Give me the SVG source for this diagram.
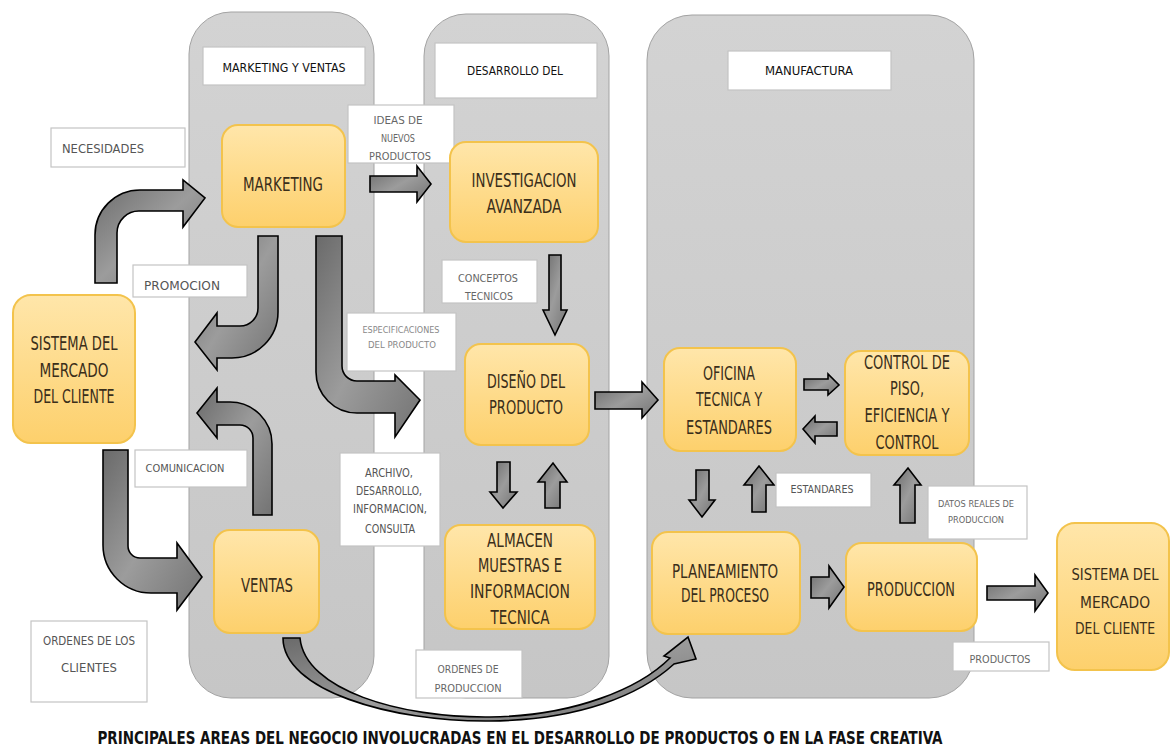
<svg xmlns="http://www.w3.org/2000/svg" width="1172" height="751" viewBox="0 0 1172 751">
<defs>
<linearGradient id="pg" x1="0" y1="0" x2="0" y2="1">
<stop offset="0" stop-color="#d3d3d3"/><stop offset="1" stop-color="#c6c6c6"/>
</linearGradient>
<linearGradient id="ng" x1="0" y1="0" x2="0" y2="1">
<stop offset="0" stop-color="#ffe6aa"/><stop offset="1" stop-color="#fdd06c"/>
</linearGradient>
<linearGradient id="ag" x1="0" y1="0" x2="1" y2="1">
<stop offset="0" stop-color="#6a6a6a"/><stop offset="0.5" stop-color="#9c9c9c"/><stop offset="1" stop-color="#737373"/>
</linearGradient>
<style>
.panel{fill:url(#pg);stroke:#a3a3a3;stroke-width:1}
.lbl{fill:#fff;stroke:#c4c4c4;stroke-width:1.2}
.node{fill:url(#ng);stroke:#f3c34c;stroke-width:2}
.arr{fill:url(#ag);stroke:#000;stroke-width:1.6;stroke-linejoin:miter}
text{font-family:"Liberation Sans Narrow","DejaVu Sans Condensed","Liberation Sans",sans-serif;text-anchor:middle}
.nt{font-size:19px;fill:#3a2e1a}
.nr{font-size:16px;fill:#3a2e1a}
.ht{font-size:13px;fill:#111}
.st{font-size:12px;fill:#555}
.sm{font-size:13px;fill:#555}
.s11{font-size:11px;fill:#555}
.xs{font-size:10px;fill:#666}
.x9{font-size:9px;fill:#666}
.x9l{font-size:9px;fill:#888}
.cap{font-size:18px;font-weight:bold;fill:#111}
</style>
</defs>
<rect width="1172" height="751" fill="#fff"/>

<g id="panels">
<rect class="panel" x="189" y="12" width="185" height="686" rx="42"/>
<rect class="panel" x="424" y="14" width="185" height="684" rx="42"/>
<rect class="panel" x="647" y="15" width="327" height="683" rx="45"/>
</g>

<g id="headers">
<g id="h-mkt"><rect class="lbl" x="203" y="47" width="162" height="38"/><text class="ht" x="284" y="72" textLength="123" lengthAdjust="spacingAndGlyphs">MARKETING Y VENTAS</text></g>
<g id="h-des"><rect class="lbl" x="435" y="43" width="162" height="55"/><text class="ht" x="515" y="75" textLength="96" lengthAdjust="spacingAndGlyphs">DESARROLLO DEL</text></g>
<g id="h-man"><rect class="lbl" x="728" y="51" width="163" height="39"/><text class="ht" x="809" y="75" textLength="88" lengthAdjust="spacingAndGlyphs">MANUFACTURA</text></g>
</g>

<g id="connectors">
<path class="arr" d="M95 283 L95 235 A45 45 0 0 1 140 190 L183 190 L183 180 L205 198 L183 227 L183 211 L140 211 A22 22 0 0 0 117 233 L117 283 Z"/>
<path class="arr" d="M258 236 L278 236 L278 312 A46 46 0 0 1 232 358 L217 358 L217 370 L195 342 L217 313 L217 326 L240 326 A18 18 0 0 0 258 308 Z"/>
<path class="arr" d="M253 515 L272 515 L272 444 A42 42 0 0 0 230 402 L217 402 L217 388 L197 413 L217 438 L217 425 L240 425 A13 13 0 0 1 253 438 Z"/>
<path class="arr" d="M103 450 L103 545 A48 48 0 0 0 151 593 L177 593 L177 610 L202 577 L177 543 L177 558 L140 558 A12 12 0 0 1 128 546 L128 450 Z"/>
<path class="arr" d="M316 236 L342 236 L342 366 A15 15 0 0 0 357 381 L395 381 L395 375 L420 400 L395 437 L395 413 L357 413 A41 41 0 0 1 316 372 Z"/>
<path class="arr" d="M370 176 L417 176 L417 166 L431 184 L417 202 L417 192 L370 192 Z"/>
<path class="arr" d="M549 255 L561 255 L561 310 L567 310 L555 335 L543 310 L549 310 Z"/>
<path class="arr" d="M595 392 L642 392 L642 382 L658 400 L642 418 L642 409 L595 409 Z"/>
<path class="arr" d="M497 462 L510 462 L510 492 L517 492 L503 508 L490 492 L497 492 Z"/>
<path class="arr" d="M545 508 L560 508 L560 482 L567 482 L553 463 L538 482 L545 482 Z"/>
<path class="arr" d="M804 379 L828 379 L828 374 L839 385 L828 395 L828 390 L804 390 Z"/>
<path class="arr" d="M837 422 L815 422 L815 416 L803 429 L815 443 L815 436 L837 436 Z"/>
<path class="arr" d="M696 470 L709 470 L709 500 L715 500 L702 517 L689 500 L696 500 Z"/>
<path class="arr" d="M752 512 L766 512 L766 485 L774 485 L759 466 L744 485 L752 485 Z"/>
<path class="arr" d="M900 523 L915 523 L915 485 L921 485 L908 468 L894 485 L900 485 Z"/>
<path class="arr" d="M811 577 L829 577 L829 566 L844 587 L829 608 L829 598 L811 598 Z"/>
<path class="arr" d="M987 586 L1035 586 L1035 575 L1048 593 L1035 611 L1035 600 L987 600 Z"/>
<path class="arr" d="M283 638 C283 690 390 722 490 721 C580 720 640 695 674 664 L696 659 L688 637 L664 656 L670 658 C640 688 575 716 490 717 C400 718 305 690 300 638 Z"/>
</g>

<g id="labels">
<g id="l-nec"><rect class="lbl" x="51" y="128" width="134" height="39"/><text class="sm" x="103" y="153" textLength="82" lengthAdjust="spacingAndGlyphs">NECESIDADES</text></g>
<g id="l-pro"><rect class="lbl" x="133" y="265" width="114" height="32"/><text class="sm" x="182" y="290" textLength="76" lengthAdjust="spacingAndGlyphs">PROMOCION</text></g>
<g id="l-ideas"><rect class="lbl" x="348" y="105" width="106" height="58"/>
<text class="xs" x="398" y="124" textLength="49" lengthAdjust="spacingAndGlyphs">IDEAS DE</text>
<text class="xs" x="398" y="142" textLength="34" lengthAdjust="spacingAndGlyphs">NUEVOS</text>
<text class="xs" x="400" y="160" textLength="62" lengthAdjust="spacingAndGlyphs">PRODUCTOS</text></g>
<g id="l-conc"><rect class="lbl" x="442" y="260" width="95" height="43"/>
<text class="xs" x="488" y="282" textLength="60" lengthAdjust="spacingAndGlyphs">CONCEPTOS</text>
<text class="xs" x="489" y="300" textLength="48" lengthAdjust="spacingAndGlyphs">TECNICOS</text></g>
<g id="l-esp"><rect class="lbl" x="347" y="313" width="109" height="58"/>
<text class="x9l" x="401" y="333" textLength="77" lengthAdjust="spacingAndGlyphs">ESPECIFICACIONES</text>
<text class="x9l" x="402" y="348" textLength="68" lengthAdjust="spacingAndGlyphs">DEL PRODUCTO</text></g>
<g id="l-arch"><rect class="lbl" x="340" y="453" width="100" height="93"/>
<text class="st" x="389" y="477" textLength="48" lengthAdjust="spacingAndGlyphs">ARCHIVO,</text>
<text class="st" x="389" y="495" textLength="66" lengthAdjust="spacingAndGlyphs">DESARROLLO,</text>
<text class="st" x="390" y="513" textLength="74" lengthAdjust="spacingAndGlyphs">INFORMACION,</text>
<text class="st" x="390" y="533" textLength="50" lengthAdjust="spacingAndGlyphs">CONSULTA</text></g>
<g id="l-com"><rect class="lbl" x="135" y="450" width="112" height="37"/><text class="s11" x="185" y="472" textLength="79" lengthAdjust="spacingAndGlyphs">COMUNICACION</text></g>
<g id="l-ordc"><rect class="lbl" x="31" y="621" width="116" height="81"/>
<text class="st" x="89" y="645" textLength="92" lengthAdjust="spacingAndGlyphs">ORDENES DE LOS</text>
<text class="st" x="89" y="672" textLength="56" lengthAdjust="spacingAndGlyphs">CLIENTES</text></g>
<g id="l-ordp"><rect class="lbl" x="416" y="650" width="106" height="48"/>
<text class="xs" x="468" y="673" textLength="61" lengthAdjust="spacingAndGlyphs">ORDENES DE</text>
<text class="xs" x="468" y="692" textLength="67" lengthAdjust="spacingAndGlyphs">PRODUCCION</text></g>
<g id="l-est"><rect class="lbl" x="776" y="473" width="95" height="34"/><text class="s11" x="822" y="493" textLength="63" lengthAdjust="spacingAndGlyphs">ESTANDARES</text></g>
<g id="l-datos"><rect class="lbl" x="928" y="486" width="99" height="53"/>
<text class="x9" x="976" y="507" textLength="76" lengthAdjust="spacingAndGlyphs">DATOS REALES DE</text>
<text class="x9" x="976" y="523" textLength="56" lengthAdjust="spacingAndGlyphs">PRODUCCION</text></g>
<g id="l-prods"><rect class="lbl" x="953" y="642" width="96" height="29"/><text class="xs" x="1000" y="663" textLength="61" lengthAdjust="spacingAndGlyphs">PRODUCTOS</text></g>
</g>

<g id="n-marketing"><rect class="node" x="222" y="125" width="123" height="102" rx="16"/><text class="nt" x="283" y="191" textLength="80" lengthAdjust="spacingAndGlyphs">MARKETING</text></g>
<g id="n-investigacion"><rect class="node" x="450" y="142" width="148" height="100" rx="16"/>
<text class="nt" x="524" y="187" textLength="105" lengthAdjust="spacingAndGlyphs">INVESTIGACION</text>
<text class="nt" x="524" y="213" textLength="75" lengthAdjust="spacingAndGlyphs">AVANZADA</text></g>
<g id="n-diseno"><rect class="node" x="465" y="344" width="124" height="101" rx="16"/>
<text class="nt" x="526" y="388" textLength="78" lengthAdjust="spacingAndGlyphs">DISEÑO DEL</text>
<text class="nt" x="526" y="414" textLength="74" lengthAdjust="spacingAndGlyphs">PRODUCTO</text></g>
<g id="n-almacen"><rect class="node" x="445" y="525" width="150" height="104" rx="16"/>
<text class="nt" x="520" y="547" textLength="66" lengthAdjust="spacingAndGlyphs">ALMACEN</text>
<text class="nt" x="520" y="572" textLength="84" lengthAdjust="spacingAndGlyphs">MUESTRAS E</text>
<text class="nt" x="520" y="598" textLength="100" lengthAdjust="spacingAndGlyphs">INFORMACION</text>
<text class="nt" x="520" y="624" textLength="59" lengthAdjust="spacingAndGlyphs">TECNICA</text></g>
<g id="n-sistema1"><rect class="node" x="13" y="295" width="122" height="148" rx="18"/>
<text class="nt" x="74" y="350" textLength="87" lengthAdjust="spacingAndGlyphs">SISTEMA DEL</text>
<text class="nt" x="74" y="377" textLength="69" lengthAdjust="spacingAndGlyphs">MERCADO</text>
<text class="nt" x="74" y="403" textLength="81" lengthAdjust="spacingAndGlyphs">DEL CLIENTE</text></g>
<g id="n-ventas"><rect class="node" x="214" y="530" width="105" height="103" rx="16"/><text class="nt" x="267" y="592" textLength="52" lengthAdjust="spacingAndGlyphs">VENTAS</text></g>
<g id="n-oficina"><rect class="node" x="664" y="348" width="132" height="103" rx="16"/>
<text class="nt" x="729" y="380" textLength="52" lengthAdjust="spacingAndGlyphs">OFICINA</text>
<text class="nt" x="729" y="406" textLength="66" lengthAdjust="spacingAndGlyphs">TECNICA Y</text>
<text class="nt" x="729" y="434" textLength="86" lengthAdjust="spacingAndGlyphs">ESTANDARES</text></g>
<g id="n-control"><rect class="node" x="845" y="351" width="124" height="104" rx="16"/>
<text class="nt" x="907" y="369" textLength="86" lengthAdjust="spacingAndGlyphs">CONTROL DE</text>
<text class="nt" x="907" y="395" textLength="34" lengthAdjust="spacingAndGlyphs">PISO,</text>
<text class="nt" x="907" y="422" textLength="85" lengthAdjust="spacingAndGlyphs">EFICIENCIA Y</text>
<text class="nt" x="907" y="449" textLength="63" lengthAdjust="spacingAndGlyphs">CONTROL</text></g>
<g id="n-planeamiento"><rect class="node" x="652" y="532" width="148" height="102" rx="16"/>
<text class="nt" x="725" y="578" textLength="106" lengthAdjust="spacingAndGlyphs">PLANEAMIENTO</text>
<text class="nt" x="725" y="602" textLength="88" lengthAdjust="spacingAndGlyphs">DEL PROCESO</text></g>
<g id="n-produccion"><rect class="node" x="846" y="543" width="131" height="88" rx="16"/><text class="nt" x="911" y="596" textLength="88" lengthAdjust="spacingAndGlyphs">PRODUCCION</text></g>
<g id="n-sistema2"><rect class="node" x="1057" y="523" width="112" height="147" rx="18"/>
<text class="nr" x="1115" y="580" textLength="87" lengthAdjust="spacingAndGlyphs">SISTEMA DEL</text>
<text class="nr" x="1115" y="608" textLength="70" lengthAdjust="spacingAndGlyphs">MERCADO</text>
<text class="nr" x="1115" y="634" textLength="80" lengthAdjust="spacingAndGlyphs">DEL CLIENTE</text></g>

<g id="caption"><text class="cap" x="520" y="744" textLength="845" lengthAdjust="spacingAndGlyphs">PRINCIPALES AREAS DEL NEGOCIO INVOLUCRADAS EN EL DESARROLLO DE PRODUCTOS O EN LA FASE CREATIVA</text></g>
</svg>
